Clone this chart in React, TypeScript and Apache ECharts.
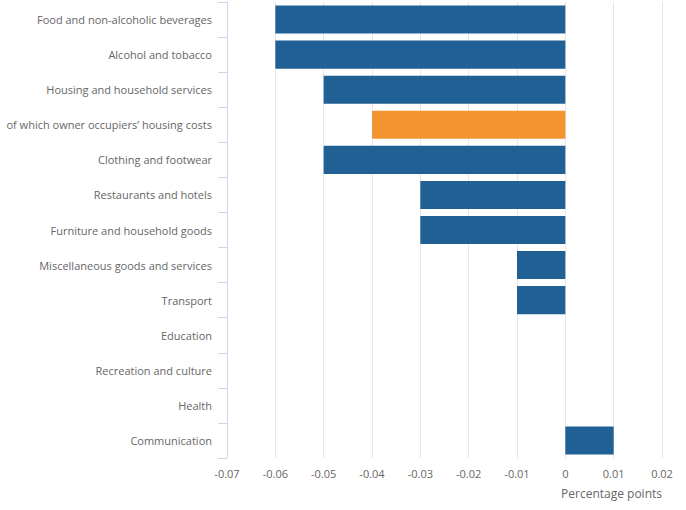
import React, { useEffect, useRef } from "react";
import * as echarts from "echarts";

const categories = [
  "Food and non-alcoholic beverages",
  "Alcohol and tobacco",
  "Housing and household services",
  "of which owner occupiers\u2019 housing costs",
  "Clothing and footwear",
  "Restaurants and hotels",
  "Furniture and household goods",
  "Miscellaneous goods and services",
  "Transport",
  "Education",
  "Recreation and culture",
  "Health",
  "Communication",
];
const values = [-0.06, -0.06, -0.05, -0.04, -0.05, -0.03, -0.03, -0.01, -0.01, 0, 0, 0, 0.01];
const highlighted = [false, false, false, true, false, false, false, false, false, false, false, false, false];
const axisName = "Percentage points";

export default function App() {
  const ref = useRef<HTMLDivElement>(null);
  useEffect(() => {
    if (!ref.current) return;
    const chart = echarts.init(ref.current, null, { renderer: "svg" });
    const font = "'Open Sans', sans-serif";
    chart.setOption({
      animation: false,
      grid: { left: 227, right: 24, top: 2, bottom: 52 },
      xAxis: {
        type: "value",
        min: -0.07,
        max: 0.02,
        interval: 0.01,
        axisLine: { show: false },
        axisTick: { show: false },
        splitLine: { show: true, lineStyle: { color: "#e6e6e6", width: 1 } },
        axisLabel: { color: "#666666", fontSize: 11, fontFamily: font, margin: 10 },
      },
      yAxis: {
        type: "category",
        inverse: true,
        data: categories,
        axisLine: { show: true, onZero: false, lineStyle: { color: "#ccd6eb", width: 1 } },
        axisTick: { show: true, length: 9, lineStyle: { color: "#ccd6eb" } },
        axisLabel: { color: "#666666", fontSize: 11, fontFamily: font, margin: 15 },
        splitLine: { show: false },
      },
      graphic: [
        {
          type: "text",
          right: 24,
          top: 487,
          style: { text: axisName, fill: "#666666", font: `12px ${font}` },
        },
      ],
      series: [
        {
          type: "bar",
          barCategoryGap: "20%",
          data: values.map((v, i) => ({
            value: v,
            itemStyle: { color: highlighted[i] ? "#f39431" : "#206095" },
          })),
        },
      ],
    });
    return () => chart.dispose();
  }, []);
  return (
    <div
      ref={ref}
      style={{ position: "absolute", left: 0, top: 0, width: 686, height: 510 }}
    />
  );
}
